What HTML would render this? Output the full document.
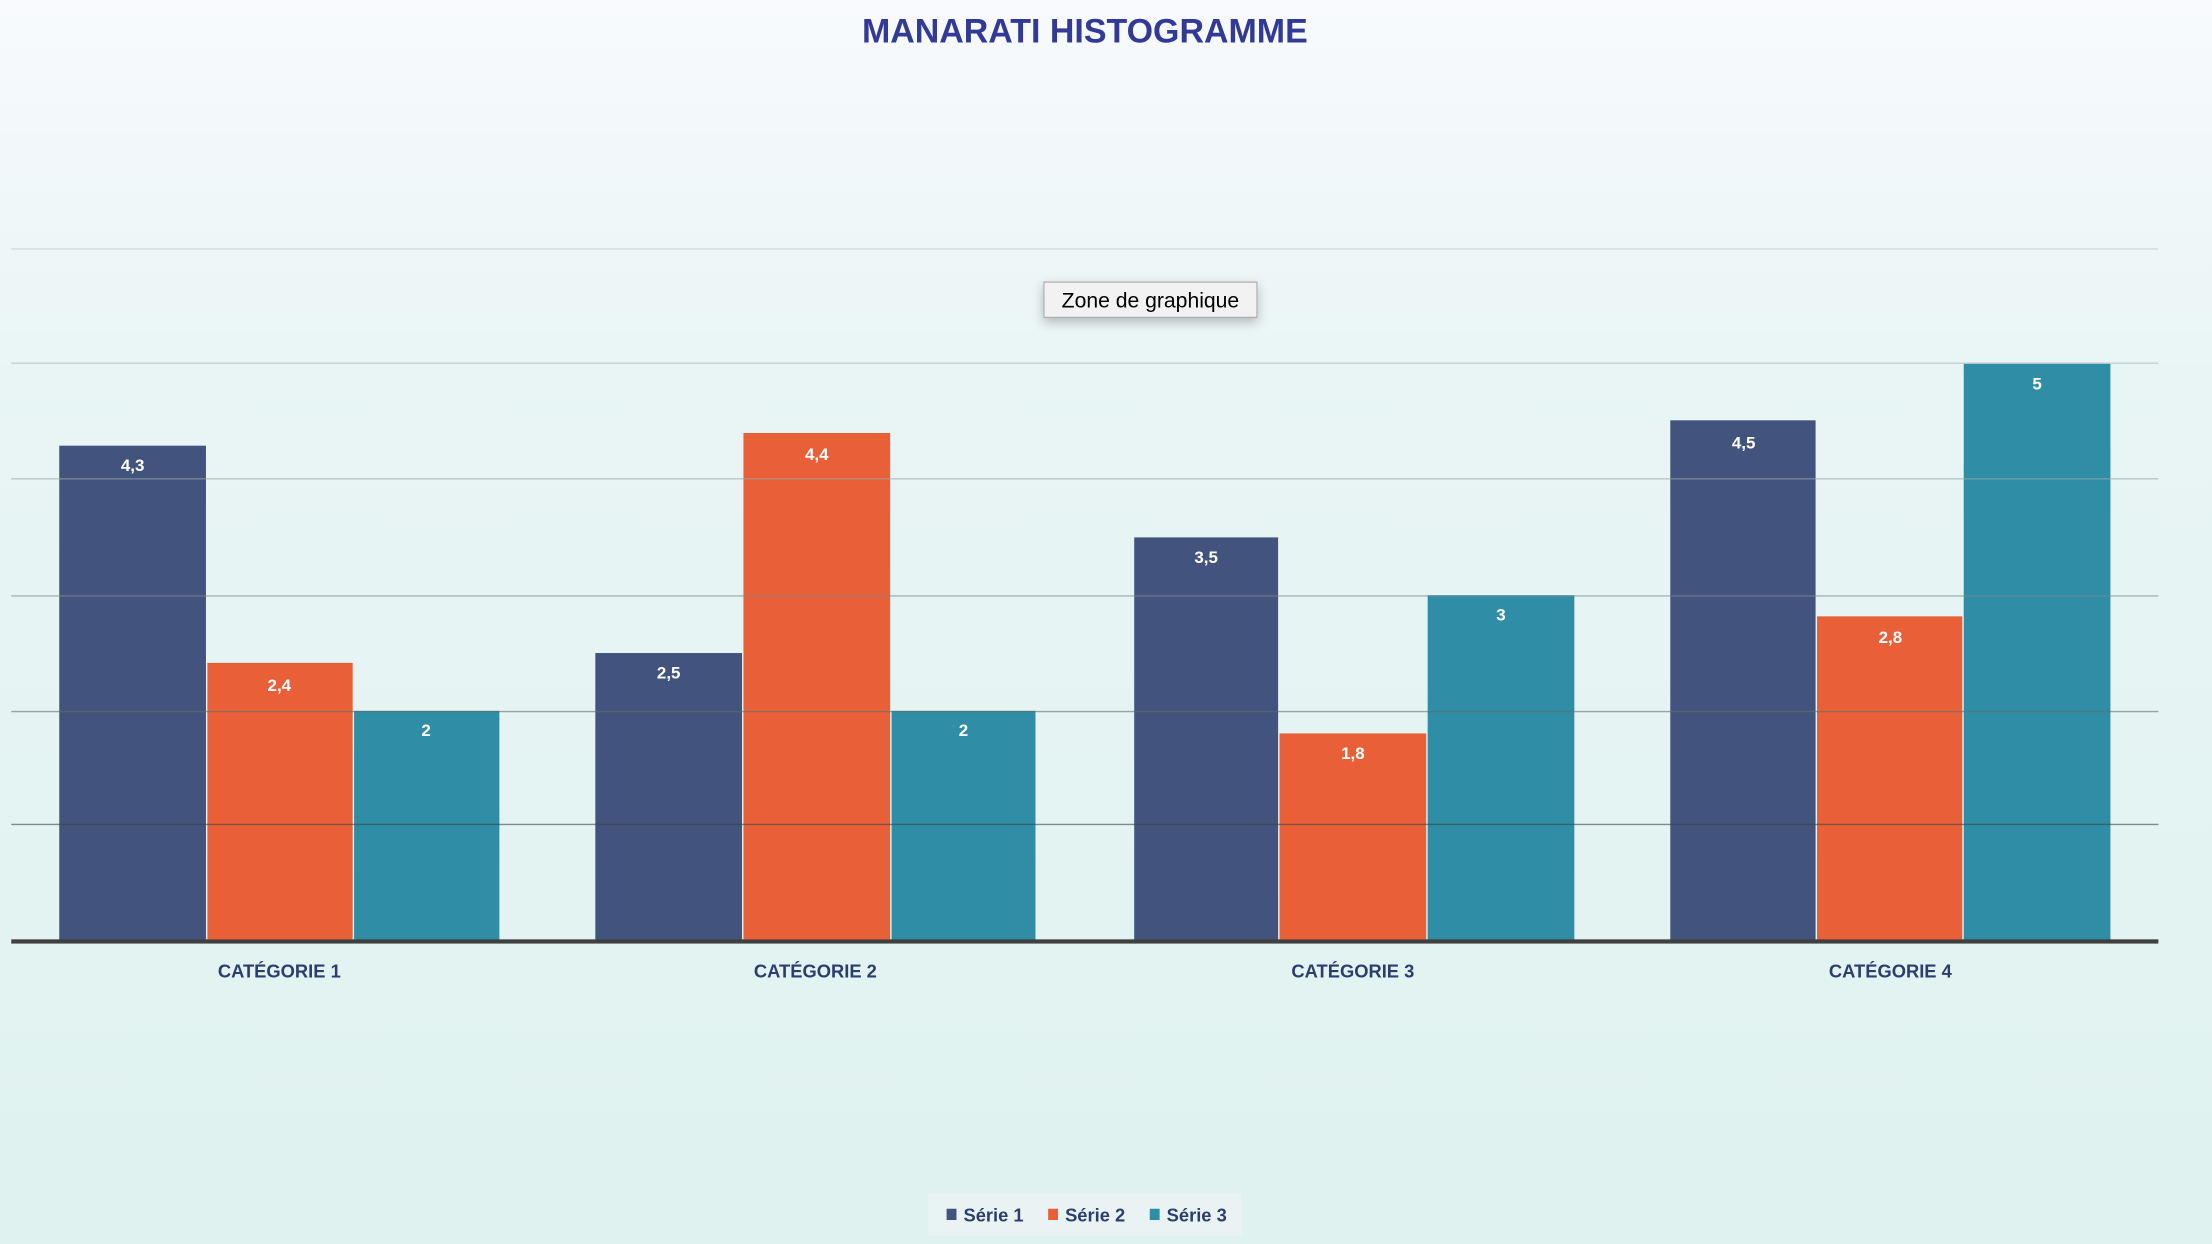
<!DOCTYPE html>
<html><head><meta charset="utf-8"><style>
html,body{margin:0;padding:0;width:2212px;height:1244px;overflow:hidden}
svg{display:block}
</style></head><body>
<svg width="2212" height="1244" viewBox="0 0 1568 882" preserveAspectRatio="none" xmlns="http://www.w3.org/2000/svg">
<defs>
<linearGradient id="bg" x1="0" y1="0" x2="0" y2="1">
<stop offset="0" stop-color="#f8fafd"/>
<stop offset="0.3" stop-color="#e9f5f5"/>
<stop offset="1" stop-color="#dff2ef"/>
</linearGradient>
<filter id="sh" x="-20%" y="-50%" width="140%" height="220%"><feDropShadow dx="0" dy="3" stdDeviation="4" flood-color="#000" flood-opacity="0.25"/></filter>
</defs>
<rect width="1568" height="882" fill="url(#bg)"/>
<text x="769" y="30" text-anchor="middle" font-family="Liberation Sans, sans-serif" font-size="24" font-weight="bold" fill="#333a96" textLength="316" lengthAdjust="spacingAndGlyphs">MANARATI HISTOGRAMME</text>
<g font-family="Liberation Sans, sans-serif" font-weight="bold" font-size="12" fill="#fff" text-anchor="middle">
<rect x="42" y="316" width="104" height="351" fill="#42547e"/><text x="94" y="334">4,3</text>
<rect x="147" y="470" width="103" height="197" fill="#e95f38"/><text x="198" y="490">2,4</text>
<rect x="251" y="504" width="103" height="163" fill="#2f8ea5"/><text x="302" y="522">2</text>
<rect x="422" y="463" width="104" height="204" fill="#42547e"/><text x="474" y="481">2,5</text>
<rect x="527" y="307" width="104" height="360" fill="#e95f38"/><text x="579" y="326">4,4</text>
<rect x="632" y="504" width="102" height="163" fill="#2f8ea5"/><text x="683" y="522">2</text>
<rect x="804" y="381" width="102" height="286" fill="#42547e"/><text x="855" y="399">3,5</text>
<rect x="907" y="520" width="104" height="147" fill="#e95f38"/><text x="959" y="538">1,8</text>
<rect x="1012" y="422" width="104" height="245" fill="#2f8ea5"/><text x="1064" y="440">3</text>
<rect x="1184" y="298" width="103" height="369" fill="#42547e"/><text x="1236" y="318">4,5</text>
<rect x="1288" y="437" width="103" height="230" fill="#e95f38"/><text x="1340" y="456">2,8</text>
<rect x="1392" y="257" width="104" height="410" fill="#2f8ea5"/><text x="1444" y="276">5</text>
</g>
<g stroke-width="1">
<line x1="8" x2="1530" y1="176.5" y2="176.5" stroke="#d2dcdc"/>
<line x1="8" x2="1530" y1="257.5" y2="257.5" stroke="#c4d0d0"/>
<line x1="8" x2="1530" y1="339.5" y2="339.5" stroke="#9aa6a6" stroke-opacity="0.6"/>
<line x1="8" x2="1530" y1="422.5" y2="422.5" stroke="#7e8a8a" stroke-opacity="0.6"/>
<line x1="8" x2="1530" y1="504.5" y2="504.5" stroke="#606c6c" stroke-opacity="0.6"/>
<line x1="8" x2="1530" y1="584.5" y2="584.5" stroke="#3a4444" stroke-opacity="0.6"/>
</g>
<rect x="8" y="666" width="1522" height="3" fill="#404040"/>
<g font-family="Liberation Sans, sans-serif" font-weight="bold" font-size="13" fill="#2c3e6e" text-anchor="middle">
<text x="198" y="693">CATÉGORIE 1</text>
<text x="578" y="693">CATÉGORIE 2</text>
<text x="959" y="693">CATÉGORIE 3</text>
<text x="1340" y="693">CATÉGORIE 4</text>
</g>
<rect x="658" y="846" width="222" height="30" fill="#eaf3f3"/>
<g font-family="Liberation Sans, sans-serif" font-weight="bold" font-size="13" fill="#2c3e6e">
<rect x="671" y="857" width="7" height="8" fill="#42547e"/><text x="683" y="866">Série 1</text>
<rect x="743" y="857" width="7" height="8" fill="#e95f38"/><text x="755" y="866">Série 2</text>
<rect x="815" y="857" width="7" height="8" fill="#2f8ea5"/><text x="827" y="866">Série 3</text>
</g>
<rect x="740" y="200" width="151" height="25" fill="#f2f2f2" stroke="#aaa" stroke-width="0.8" filter="url(#sh)"/>
<text x="815.5" y="218" text-anchor="middle" font-family="Liberation Sans, sans-serif" font-size="15" fill="#000">Zone de graphique</text>
</svg>
</body></html>
